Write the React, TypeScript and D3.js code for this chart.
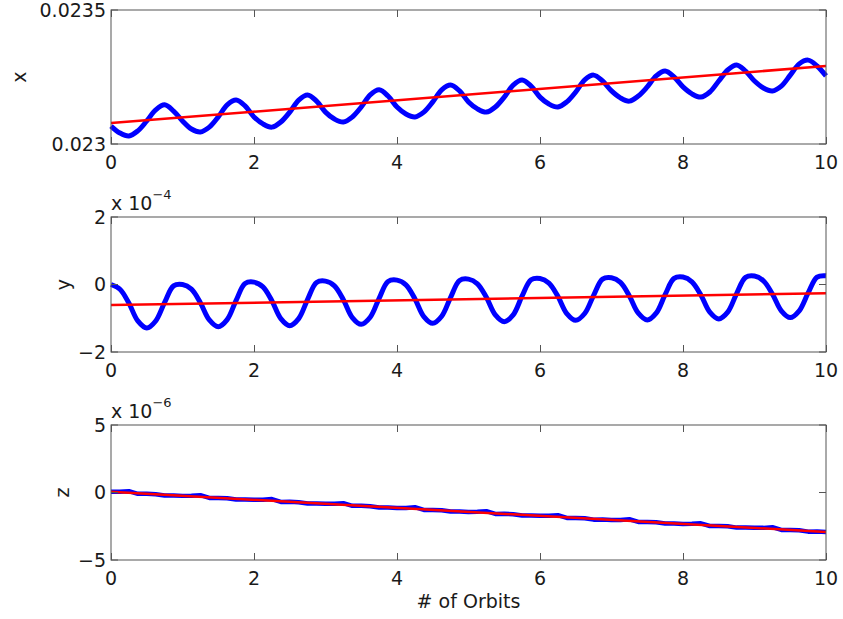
import React, { useEffect, useRef } from 'react';
import * as d3 from 'd3';

const orbitStep = 0.125; // spacing of the samples, in orbits
const orbitTicks = [0, 2, 4, 6, 8, 10];

// x position (blue), one sample per orbitStep
const xVals = [
  0.023067, 0.023041, 0.02303, 0.023049, 0.023086, 0.023127, 0.023146, 0.023123,
  0.023086, 0.023056, 0.023045, 0.023063, 0.023101, 0.023146, 0.023164, 0.023142,
  0.023101, 0.023075, 0.023063, 0.023082, 0.023119, 0.023164, 0.023183, 0.02316,
  0.023119, 0.023093, 0.023082, 0.023101, 0.023138, 0.023183, 0.023202, 0.023179,
  0.023138, 0.023112, 0.023101, 0.023119, 0.023157, 0.023202, 0.02322, 0.023198,
  0.023157, 0.023131, 0.023119, 0.023138, 0.023175, 0.02322, 0.023239, 0.023216,
  0.023175, 0.023149, 0.023138, 0.023157, 0.023194, 0.023239, 0.023257, 0.023235,
  0.023198, 0.023172, 0.02316, 0.023179, 0.023213, 0.023254, 0.023272, 0.02325,
  0.023213, 0.023187, 0.023175, 0.023194, 0.023235, 0.023276, 0.023295, 0.023272,
  0.023235, 0.023209, 0.023198, 0.023216, 0.023257, 0.023299, 0.023313, 0.023291,
  0.023254,
];
const xFit = [0.023078, 0.023291]; // red fit at orbit 0 and 10

// y position, in units of 1e-4
const yVals = [
  0, -0.14, -0.55, -1.08, -1.29, -1.08, -0.53, -0.04,
  0, -0.14, -0.54, -1.05, -1.25, -1.04, -0.47, 0.03,
  0.07, -0.07, -0.48, -1.01, -1.22, -1.01, -0.44, 0.06,
  0.1, -0.04, -0.45, -0.98, -1.18, -0.97, -0.41, 0.09,
  0.13, -0.01, -0.42, -0.95, -1.15, -0.94, -0.38, 0.12,
  0.16, 0.02, -0.38, -0.9, -1.1, -0.9, -0.34, 0.14,
  0.18, 0.04, -0.35, -0.86, -1.06, -0.86, -0.32, 0.16,
  0.2, 0.06, -0.34, -0.85, -1.05, -0.85, -0.3, 0.18,
  0.22, 0.08, -0.31, -0.82, -1.02, -0.82, -0.27, 0.21,
  0.25, 0.11, -0.28, -0.78, -0.98, -0.78, -0.25, 0.22,
  0.26,
];
const yFit = [-0.61, -0.26];

// z position, in units of 1e-6
const zVals = [
  0.05, 0.05, 0.1, -0.1, -0.1, -0.13, -0.22, -0.22,
  -0.25, -0.24, -0.2, -0.4, -0.4, -0.42, -0.52, -0.52,
  -0.54, -0.54, -0.49, -0.7, -0.69, -0.72, -0.82, -0.81,
  -0.84, -0.84, -0.79, -0.99, -0.99, -1.02, -1.11, -1.11,
  -1.14, -1.14, -1.09, -1.29, -1.29, -1.31, -1.41, -1.41,
  -1.44, -1.43, -1.38, -1.59, -1.58, -1.61, -1.71, -1.71,
  -1.73, -1.73, -1.68, -1.88, -1.88, -1.91, -2.01, -2.0,
  -2.03, -2.03, -1.98, -2.18, -2.18, -2.21, -2.3, -2.3,
  -2.33, -2.32, -2.28, -2.48, -2.48, -2.5, -2.6, -2.6,
  -2.62, -2.62, -2.57, -2.77, -2.77, -2.8, -2.9, -2.89,
  -2.92,
];
const zFit = [0.05, -2.92];

const panels = [
  { label: 'x', vals: xVals, fit: xFit, domain: [0.023, 0.0235], ticks: [0.023, 0.0235], tickText: ['0.023', '0.0235'], exp: null, top: 10, bottom: 144, labelX: 20, smooth: true, blueWidth: 5 },
  { label: 'y', vals: yVals, fit: yFit, domain: [-2, 2], ticks: [-2, 0, 2], tickText: ['\u22122', '0', '2'], exp: '\u22124', top: 217, bottom: 352, labelX: 64, smooth: true, blueWidth: 5 },
  { label: 'z', vals: zVals, fit: zFit, domain: [-5, 5], ticks: [-5, 0, 5], tickText: ['\u22125', '0', '5'], exp: '\u22126', top: 425, bottom: 560, labelX: 63, smooth: false, blueWidth: 4.5 },
];

const W = 843;
const H = 619;
const left = 111;
const right = 826;
const font = '"DejaVu Sans", "Liberation Sans", Arial, sans-serif';
const fontSize = 19;
const axisColor = '#555';
const textColor = '#1a1a1a';

const App = () => {
  const svgRef = useRef<SVGSVGElement>(null);

  useEffect(() => {
    const svg = d3.select(svgRef.current);
    svg.selectAll('*').remove();

    const x = d3.scaleLinear().domain([0, 10]).range([left, right]);

    panels.forEach(p => {
      const y = d3.scaleLinear().domain(p.domain).range([p.bottom, p.top]);
      const g = svg.append('g');

      // blue trajectory
      const line = d3.line<number>()
        .x((_, i) => x(i * orbitStep))
        .y(d => y(d))
        .curve(p.smooth ? d3.curveCatmullRom : d3.curveLinear);
      g.append('path')
        .attr('d', line(p.vals))
        .attr('fill', 'none')
        .attr('stroke', '#0000ff')
        .attr('stroke-width', p.blueWidth)
        .attr('stroke-linejoin', 'round');

      // red linear fit
      g.append('line')
        .attr('x1', x(0)).attr('y1', y(p.fit[0]))
        .attr('x2', x(10)).attr('y2', y(p.fit[1]))
        .attr('stroke', '#ff0000')
        .attr('stroke-width', 2.5);

      // box
      g.append('rect')
        .attr('x', left).attr('y', p.top)
        .attr('width', right - left).attr('height', p.bottom - p.top)
        .attr('fill', 'none').attr('stroke', axisColor).attr('stroke-width', 1);

      // x ticks (inward, top and bottom)
      orbitTicks.forEach(t => {
        const px = Math.round(x(t)) + 0.5;
        g.append('line').attr('x1', px).attr('x2', px)
          .attr('y1', p.bottom).attr('y2', p.bottom - 7)
          .attr('stroke', axisColor);
        g.append('line').attr('x1', px).attr('x2', px)
          .attr('y1', p.top).attr('y2', p.top + 7)
          .attr('stroke', axisColor);
        g.append('text')
          .attr('x', x(t)).attr('y', p.bottom + 25)
          .attr('text-anchor', 'middle')
          .attr('font-family', font).attr('font-size', fontSize)
          .attr('fill', textColor)
          .text(t);
      });

      // y ticks (inward, left and right)
      p.ticks.forEach((t, i) => {
        const py = y(t);
        g.append('line').attr('x1', left).attr('x2', left + 7)
          .attr('y1', py).attr('y2', py).attr('stroke', axisColor);
        g.append('line').attr('x1', right).attr('x2', right - 7)
          .attr('y1', py).attr('y2', py).attr('stroke', axisColor);
        g.append('text')
          .attr('x', left - 5).attr('y', py)
          .attr('dy', '0.36em')
          .attr('text-anchor', 'end')
          .attr('font-family', font).attr('font-size', fontSize)
          .attr('fill', textColor)
          .text(p.tickText[i]);
      });

      // y label
      g.append('text')
        .attr('transform', `translate(${p.labelX},${(p.top + p.bottom) / 2}) rotate(-90)`)
        .attr('text-anchor', 'middle')
        .attr('dy', '0.3em')
        .attr('font-family', font).attr('font-size', fontSize)
        .attr('fill', textColor)
        .text(p.label);

      // exponent label
      if (p.exp) {
        const t = g.append('text')
          .attr('x', left).attr('y', p.top - 7)
          .attr('font-family', font).attr('font-size', fontSize)
          .attr('fill', textColor);
        t.append('tspan').text('x 10');
        t.append('tspan').attr('dy', -11).attr('font-size', 13).text(p.exp);
      }
    });

    svg.append('text')
      .attr('x', (left + right) / 2).attr('y', 608)
      .attr('text-anchor', 'middle')
      .attr('font-family', font).attr('font-size', fontSize)
      .attr('fill', textColor)
      .text('# of Orbits');
  }, []);

  return (
    <svg ref={svgRef} width={W} height={H}
      style={{ position: 'absolute', left: 0, top: 0, background: '#fff' }} />
  );
};

export default App;
